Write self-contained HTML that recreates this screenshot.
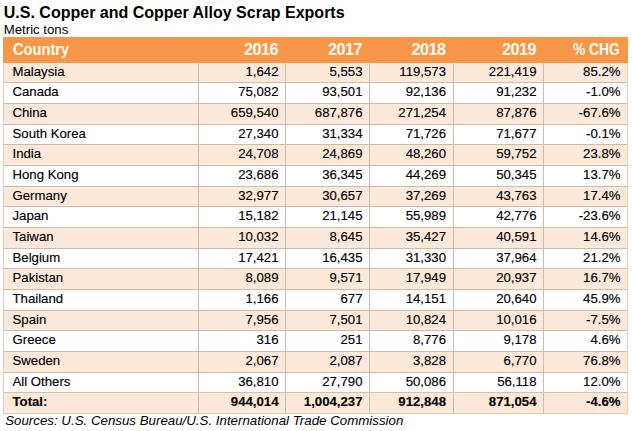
<!DOCTYPE html>
<html><head><meta charset="utf-8"><style>
html,body{margin:0;padding:0;background:#fff;width:632px;height:431px;overflow:hidden;position:relative}
.t{position:absolute;white-space:nowrap;color:#000;font-family:"Liberation Sans",sans-serif}
.title{left:3.8px;top:4px;font-size:16px;font-weight:bold;line-height:18px}
.sub{left:3.8px;top:21.7px;font-size:13.2px;line-height:15px}
.src{left:5.2px;top:413.2px;font-size:13.3px;font-style:italic;line-height:15px}
.hdr{position:absolute;left:3px;top:37px;width:625px;height:25.6px;background:#f79646}
.row{position:absolute;left:3px;width:624px}
.hl{position:absolute;left:3px;width:625px;height:1px;background:#d5b9a7}
.vl{position:absolute;width:1px;background:#d5b9a7}
.c{position:absolute;white-space:nowrap;font-family:"Liberation Sans",sans-serif;font-size:13.2px;line-height:15px;color:#000;-webkit-text-stroke:0.15px #000}
.h{position:absolute;white-space:nowrap;font-family:"Liberation Sans",sans-serif;font-size:16.2px;font-weight:bold;line-height:18px;color:#fffcf4;letter-spacing:-0.5px}
.r{text-align:right}
.b{font-weight:bold}
</style></head><body>
<div class="t title">U.S. Copper and Copper Alloy Scrap Exports</div>
<div class="t sub">Metric tons</div>
<div class="hdr"></div>
<div class="row" style="top:63.00px;height:19.00px;background:#fde9d9"></div>
<div class="row" style="top:103.00px;height:21.00px;background:#fde9d9"></div>
<div class="row" style="top:144.00px;height:21.00px;background:#fde9d9"></div>
<div class="row" style="top:186.00px;height:20.00px;background:#fde9d9"></div>
<div class="row" style="top:227.00px;height:21.00px;background:#fde9d9"></div>
<div class="row" style="top:268.00px;height:21.00px;background:#fde9d9"></div>
<div class="row" style="top:310.00px;height:20.00px;background:#fde9d9"></div>
<div class="row" style="top:351.00px;height:21.00px;background:#fde9d9"></div>
<div class="row" style="top:392.00px;height:21.00px;background:#fde9d9"></div>
<div class="hl" style="top:82px"></div>
<div class="hl" style="top:103px"></div>
<div class="hl" style="top:124px"></div>
<div class="hl" style="top:144px"></div>
<div class="hl" style="top:165px"></div>
<div class="hl" style="top:186px"></div>
<div class="hl" style="top:206px"></div>
<div class="hl" style="top:227px"></div>
<div class="hl" style="top:248px"></div>
<div class="hl" style="top:268px"></div>
<div class="hl" style="top:289px"></div>
<div class="hl" style="top:310px"></div>
<div class="hl" style="top:330px"></div>
<div class="hl" style="top:351px"></div>
<div class="hl" style="top:372px"></div>
<div class="hl" style="top:392px;background:#e3bc9e"></div>
<div class="hl" style="top:413px;background:#efc3a4"></div>
<div class="vl" style="left:3px;top:63.00px;height:351.00px;background:#e2cbbd"></div>
<div class="vl" style="left:198px;top:63.00px;height:351.00px"></div>
<div class="vl" style="left:285px;top:63.00px;height:351.00px"></div>
<div class="vl" style="left:369px;top:63.00px;height:351.00px"></div>
<div class="vl" style="left:453px;top:63.00px;height:351.00px"></div>
<div class="vl" style="left:543px;top:63.00px;height:351.00px"></div>
<div class="vl" style="left:627px;top:63.00px;height:351.00px;background:#f0cbb2"></div>
<div class="h" style="left:12.5px;top:40.30px;letter-spacing:0px;transform:scaleX(0.905);transform-origin:0 50%">Country</div>
<div class="h r" style="right:354.00px;top:40.30px">2016</div>
<div class="h r" style="right:270.00px;top:40.30px">2017</div>
<div class="h r" style="right:186.50px;top:40.30px">2018</div>
<div class="h r" style="right:96.00px;top:40.30px">2019</div>
<div class="h r" style="right:12.10px;top:40.30px;letter-spacing:0px;transform:scaleX(0.855);transform-origin:100% 50%">% CHG</div>
<div class="c" style="left:12.5px;top:63.60px">Malaysia</div>
<div class="c r" style="right:353.50px;top:63.60px">1,642</div>
<div class="c r" style="right:269.50px;top:63.60px">5,553</div>
<div class="c r" style="right:186.00px;top:63.60px">119,573</div>
<div class="c r" style="right:95.50px;top:63.60px">221,419</div>
<div class="c r" style="right:11.50px;top:63.60px">85.2%</div>
<div class="c" style="left:12.5px;top:83.60px">Canada</div>
<div class="c r" style="right:353.50px;top:83.60px">75,082</div>
<div class="c r" style="right:269.50px;top:83.60px">93,501</div>
<div class="c r" style="right:186.00px;top:83.60px">92,136</div>
<div class="c r" style="right:95.50px;top:83.60px">91,232</div>
<div class="c r" style="right:11.50px;top:83.60px">-1.0%</div>
<div class="c" style="left:12.5px;top:104.60px">China</div>
<div class="c r" style="right:353.50px;top:104.60px">659,540</div>
<div class="c r" style="right:269.50px;top:104.60px">687,876</div>
<div class="c r" style="right:186.00px;top:104.60px">271,254</div>
<div class="c r" style="right:95.50px;top:104.60px">87,876</div>
<div class="c r" style="right:11.50px;top:104.60px">-67.6%</div>
<div class="c" style="left:12.5px;top:125.60px">South Korea</div>
<div class="c r" style="right:353.50px;top:125.60px">27,340</div>
<div class="c r" style="right:269.50px;top:125.60px">31,334</div>
<div class="c r" style="right:186.00px;top:125.60px">71,726</div>
<div class="c r" style="right:95.50px;top:125.60px">71,677</div>
<div class="c r" style="right:11.50px;top:125.60px">-0.1%</div>
<div class="c" style="left:12.5px;top:145.60px">India</div>
<div class="c r" style="right:353.50px;top:145.60px">24,708</div>
<div class="c r" style="right:269.50px;top:145.60px">24,869</div>
<div class="c r" style="right:186.00px;top:145.60px">48,260</div>
<div class="c r" style="right:95.50px;top:145.60px">59,752</div>
<div class="c r" style="right:11.50px;top:145.60px">23.8%</div>
<div class="c" style="left:12.5px;top:166.60px">Hong Kong</div>
<div class="c r" style="right:353.50px;top:166.60px">23,686</div>
<div class="c r" style="right:269.50px;top:166.60px">36,345</div>
<div class="c r" style="right:186.00px;top:166.60px">44,269</div>
<div class="c r" style="right:95.50px;top:166.60px">50,345</div>
<div class="c r" style="right:11.50px;top:166.60px">13.7%</div>
<div class="c" style="left:12.5px;top:187.60px">Germany</div>
<div class="c r" style="right:353.50px;top:187.60px">32,977</div>
<div class="c r" style="right:269.50px;top:187.60px">30,657</div>
<div class="c r" style="right:186.00px;top:187.60px">37,269</div>
<div class="c r" style="right:95.50px;top:187.60px">43,763</div>
<div class="c r" style="right:11.50px;top:187.60px">17.4%</div>
<div class="c" style="left:12.5px;top:207.60px">Japan</div>
<div class="c r" style="right:353.50px;top:207.60px">15,182</div>
<div class="c r" style="right:269.50px;top:207.60px">21,145</div>
<div class="c r" style="right:186.00px;top:207.60px">55,989</div>
<div class="c r" style="right:95.50px;top:207.60px">42,776</div>
<div class="c r" style="right:11.50px;top:207.60px">-23.6%</div>
<div class="c" style="left:12.5px;top:228.60px">Taiwan</div>
<div class="c r" style="right:353.50px;top:228.60px">10,032</div>
<div class="c r" style="right:269.50px;top:228.60px">8,645</div>
<div class="c r" style="right:186.00px;top:228.60px">35,427</div>
<div class="c r" style="right:95.50px;top:228.60px">40,591</div>
<div class="c r" style="right:11.50px;top:228.60px">14.6%</div>
<div class="c" style="left:12.5px;top:249.60px">Belgium</div>
<div class="c r" style="right:353.50px;top:249.60px">17,421</div>
<div class="c r" style="right:269.50px;top:249.60px">16,435</div>
<div class="c r" style="right:186.00px;top:249.60px">31,330</div>
<div class="c r" style="right:95.50px;top:249.60px">37,964</div>
<div class="c r" style="right:11.50px;top:249.60px">21.2%</div>
<div class="c" style="left:12.5px;top:269.60px">Pakistan</div>
<div class="c r" style="right:353.50px;top:269.60px">8,089</div>
<div class="c r" style="right:269.50px;top:269.60px">9,571</div>
<div class="c r" style="right:186.00px;top:269.60px">17,949</div>
<div class="c r" style="right:95.50px;top:269.60px">20,937</div>
<div class="c r" style="right:11.50px;top:269.60px">16.7%</div>
<div class="c" style="left:12.5px;top:290.60px">Thailand</div>
<div class="c r" style="right:353.50px;top:290.60px">1,166</div>
<div class="c r" style="right:269.50px;top:290.60px">677</div>
<div class="c r" style="right:186.00px;top:290.60px">14,151</div>
<div class="c r" style="right:95.50px;top:290.60px">20,640</div>
<div class="c r" style="right:11.50px;top:290.60px">45.9%</div>
<div class="c" style="left:12.5px;top:311.60px">Spain</div>
<div class="c r" style="right:353.50px;top:311.60px">7,956</div>
<div class="c r" style="right:269.50px;top:311.60px">7,501</div>
<div class="c r" style="right:186.00px;top:311.60px">10,824</div>
<div class="c r" style="right:95.50px;top:311.60px">10,016</div>
<div class="c r" style="right:11.50px;top:311.60px">-7.5%</div>
<div class="c" style="left:12.5px;top:331.60px">Greece</div>
<div class="c r" style="right:353.50px;top:331.60px">316</div>
<div class="c r" style="right:269.50px;top:331.60px">251</div>
<div class="c r" style="right:186.00px;top:331.60px">8,776</div>
<div class="c r" style="right:95.50px;top:331.60px">9,178</div>
<div class="c r" style="right:11.50px;top:331.60px">4.6%</div>
<div class="c" style="left:12.5px;top:352.60px">Sweden</div>
<div class="c r" style="right:353.50px;top:352.60px">2,067</div>
<div class="c r" style="right:269.50px;top:352.60px">2,087</div>
<div class="c r" style="right:186.00px;top:352.60px">3,828</div>
<div class="c r" style="right:95.50px;top:352.60px">6,770</div>
<div class="c r" style="right:11.50px;top:352.60px">76.8%</div>
<div class="c" style="left:12.5px;top:373.60px">All Others</div>
<div class="c r" style="right:353.50px;top:373.60px">36,810</div>
<div class="c r" style="right:269.50px;top:373.60px">27,790</div>
<div class="c r" style="right:186.00px;top:373.60px">50,086</div>
<div class="c r" style="right:95.50px;top:373.60px">56,118</div>
<div class="c r" style="right:11.50px;top:373.60px">12.0%</div>
<div class="c b" style="left:12.5px;top:393.60px">Total:</div>
<div class="c b r" style="right:353.50px;top:393.60px">944,014</div>
<div class="c b r" style="right:269.50px;top:393.60px">1,004,237</div>
<div class="c b r" style="right:186.00px;top:393.60px">912,848</div>
<div class="c b r" style="right:95.50px;top:393.60px">871,054</div>
<div class="c b r" style="right:11.50px;top:393.60px">-4.6%</div>
<div class="t src">Sources: U.S. Census Bureau/U.S. International Trade Commission</div>
</body></html>
